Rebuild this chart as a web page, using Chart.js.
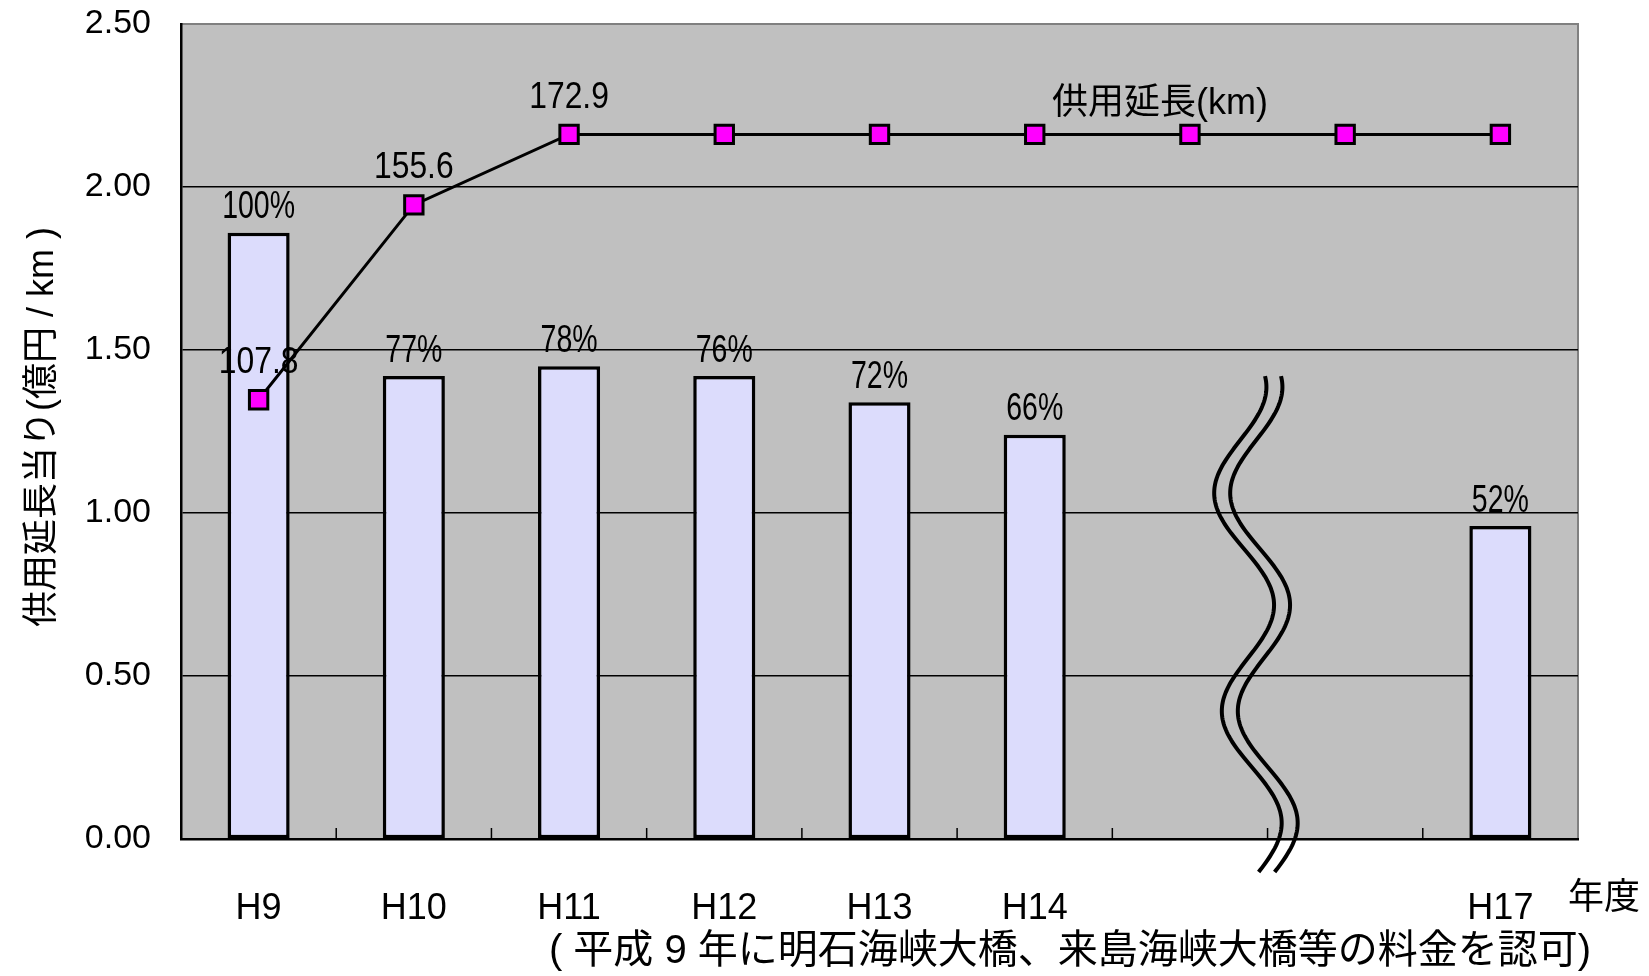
<!DOCTYPE html>
<html>
<head>
<meta charset="utf-8">
<script src="https://cdn.jsdelivr.net/npm/chart.js@4"></script>
<style>
  html, body { margin: 0; padding: 0; background: #fff; }
  canvas { display: block; }
</style>
</head>
<body>
<canvas id="chart" width="1649" height="976"></canvas>
<script>
// data
const years = ["H9", "H10", "H11", "H12", "H13", "H14", "", "", "H17"];
const costPerKm = [1.86, 1.42, 1.45, 1.42, 1.34, 1.24, null, null, 0.96];
const costRatio = ["100%", "77%", "78%", "76%", "72%", "66%", "", "", "52%"];
const lengthKm = [107.8, 155.6, 172.9, 172.9, 172.9, 172.9, 172.9, 172.9, 172.9];
const lengthLabels = ["107.8", "155.6", "172.9", "", "", "", "", "", ""];
const yTicks = [0, 0.5, 1.0, 1.5, 2.0, 2.5];

const LATIN = "'Liberation Sans', Arial, 'Noto Sans CJK JP', sans-serif";

// text squeezed sideways, the labels in the original are narrow
function narrowText(ctx, text, x, y, sx) {
    ctx.save();
    ctx.translate(x, y);
    ctx.scale(sx, 1);
    ctx.fillText(text, 0, 0);
    ctx.restore();
}

// grey plot background with thin grey frame
const plotBackground = {
    id: "plotBackground",
    beforeDraw(chart) {
        const { ctx, chartArea: a } = chart;
        ctx.save();
        ctx.fillStyle = "#c0c0c0";
        ctx.fillRect(a.left, a.top, a.width, a.height);
        ctx.strokeStyle = "#808080";
        ctx.lineWidth = 2;
        ctx.strokeRect(a.left, a.top, a.width, a.height);
        ctx.restore();
    }
};

// value labels, small category ticks, break mark and extra texts
const extras = {
    id: "extras",
    afterDatasetsDraw(chart) {
        const { ctx } = chart;
        ctx.save();
        ctx.fillStyle = "#000";
        ctx.textAlign = "center";
        ctx.textBaseline = "middle";

        // bar labels
        ctx.font = "38px " + LATIN;
        chart.getDatasetMeta(0).data.forEach((bar, i) => {
            if (!costRatio[i] || costPerKm[i] == null) return;
            narrowText(ctx, costRatio[i], bar.x, bar.y - 25, 0.75);
        });

        // line labels
        ctx.font = "37px " + LATIN;
        chart.getDatasetMeta(1).data.forEach((pt, i) => {
            if (!lengthLabels[i]) return;
            narrowText(ctx, lengthLabels[i], pt.x, pt.y - 37, 0.86);
        });
        ctx.restore();
    },
    afterDraw(chart) {
        const { ctx, chartArea: a } = chart;
        const x = chart.scales.x;
        const y = chart.scales.y;
        const catW = x.getPixelForValue(1) - x.getPixelForValue(0);
        ctx.save();

        // little ticks between categories, pointing up into the plot
        ctx.strokeStyle = "#000";
        ctx.lineWidth = 1.5;
        for (let i = 1; i < years.length; i++) {
            const bx = x.getPixelForValue(i) - catW / 2;
            ctx.beginPath();
            ctx.moveTo(bx, a.bottom);
            ctx.lineTo(bx, a.bottom - 11);
            ctx.stroke();
        }

        // wavy break between H14 and H17
        const yTop = y.getPixelForValue(1.42);
        const yBot = a.bottom + 34;
        const cx0 = x.getPixelForValue(6) + 0.31 * catW;
        ctx.lineWidth = 4;
        [0, 16].forEach(off => {
            ctx.beginPath();
            for (let py = yTop; py <= yBot; py += 2) {
                const cx = cx0 + off + (py - yTop) * 0.035;
                const px = cx + 28 * Math.sin(2 * Math.PI * (py - yTop + 45) / 218);
                if (py === yTop) ctx.moveTo(px, py); else ctx.lineTo(px, py);
            }
            ctx.stroke();
        });

        ctx.fillStyle = "#000";
        ctx.textBaseline = "middle";

        // series name inside the plot
        ctx.textAlign = "center";
        ctx.font = "36px " + LATIN;
        ctx.fillText("供用延長(km)", 1160, 104);

        // unit of the category axis
        ctx.fillText("年度", 1604, 899);

        // note under the chart
        ctx.font = "40px " + LATIN;
        ctx.fillText("( 平成 9 年に明石海峡大橋、来島海峡大橋等の料金を認可)", 1070, 952);

        // y axis title
        ctx.translate(43, 427);
        ctx.rotate(-Math.PI / 2);
        ctx.font = "36px " + LATIN;
        ctx.fillText("供用延長当り(億円 / km )", 0, 0);
        ctx.restore();
    }
};

const ctx = document.getElementById("chart").getContext("2d");
new Chart(ctx, {
    data: {
        labels: years,
        datasets: [
            {
                type: "bar",
                label: "供用延長当り",
                data: costPerKm,
                yAxisID: "y",
                backgroundColor: "#dcdcfc",
                borderColor: "#000",
                borderWidth: 3.5,
                borderSkipped: false,
                categoryPercentage: 1,
                barPercentage: 0.4,
                order: 1
            },
            {
                type: "line",
                label: "供用延長(km)",
                data: lengthKm,
                yAxisID: "y1",
                borderColor: "#000",
                borderWidth: 3,
                pointStyle: "rect",
                pointRadius: 13,
                pointBackgroundColor: "#ff00ff",
                pointBorderColor: "#000",
                pointBorderWidth: 3,
                tension: 0,
                order: 0
            }
        ]
    },
    options: {
        responsive: false,
        animation: false,
        layout: { padding: { top: 24, right: 71, left: 0, bottom: 0 } },
        plugins: {
            legend: { display: false },
            tooltip: { enabled: false }
        },
        scales: {
            x: {
                offset: true,
                grid: { display: false },
                border: { display: true, color: "#000", width: 2.5 },
                ticks: {
                    autoSkip: false,
                    maxRotation: 0,
                    padding: 40,
                    color: "#000",
                    font: { family: LATIN, size: 36 }
                },
                afterFit(scale) {
                    scale.height = 137;
                    scale.paddingLeft = 0;
                    scale.paddingRight = 0;
                }
            },
            y: {
                min: 0,
                max: 2.5,
                afterBuildTicks(scale) { scale.ticks = yTicks.map(v => ({ value: v })); },
                grid: {
                    color: c => (c.tick && c.tick.value === 2.5 ? "#808080" : "#000"),
                    lineWidth: 1.5,
                    drawTicks: false
                },
                border: { display: true, color: "#000", width: 2.5 },
                ticks: {
                    padding: 30,
                    color: "#000",
                    font: { family: LATIN, size: 34 },
                    callback: v => Number(v).toFixed(2)
                },
                afterFit(scale) {
                    scale.width = 181;
                    scale.paddingTop = 0;
                    scale.paddingBottom = 0;
                }
            },
            y1: {
                display: false,
                min: 0,
                max: 200
            }
        }
    },
    plugins: [plotBackground, extras]
});
</script>
</body>
</html>
